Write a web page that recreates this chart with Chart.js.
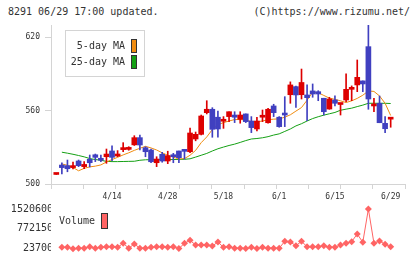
<!DOCTYPE html>
<html><head><meta charset="utf-8">
<script src="https://cdn.jsdelivr.net/npm/chart.js@4"></script>
<style>
html,body{margin:0;padding:0;background:#fff;width:420px;height:259px;overflow:hidden;}
.hdr{position:absolute;top:6px;font:10px "DejaVu Sans Mono",monospace;line-height:12px;color:#333;white-space:pre;}
#hdrL{left:8px}
#hdrR{right:10px}
#c1{position:absolute;left:0;top:0}
#c2{position:absolute;left:0;top:195px}
</style></head><body>
<div class="hdr" id="hdrL">8291 06/29 17:00 updated.</div>
<div class="hdr" id="hdrR">(C)https://www.rizumu.net/</div>
<canvas id="c1" width="420" height="205"></canvas>
<canvas id="c2" width="420" height="64"></canvas>
<script>
// ---- data ----
const dates = ['3/31','4/3','4/4','4/5','4/6','4/7','4/10','4/11','4/12','4/13','4/14','4/17','4/18','4/19','4/20','4/21','4/24','4/25','4/26','4/27','4/28',
  '5/1','5/8','5/9','5/10','5/11','5/12','5/15','5/16','5/17','5/18','5/19','5/22','5/23','5/24','5/25','5/26','5/29','5/30','5/31',
  '6/1','6/2','6/5','6/6','6/7','6/8','6/9','6/12','6/13','6/14','6/15','6/16','6/19','6/20','6/21','6/22','6/23','6/26','6/27','6/28','6/29'];
const openP  = [507.8,515.5,515,513.4,518.8,514.2,520.2,523.9,520.7,522.3,527,522.9,528.1,528.3,532,537.9,529.7,527.8,517.4,524.3,518.8,
  523.7,527,527.8,526.4,536.8,540.6,558.3,561.1,554.6,551.3,555.1,556.4,552.9,557.3,551.5,545,554.6,550.1,563.8,
  554.6,557.8,573,579.6,573,572.8,576.1,575.5,570.1,561.3,568.7,565,568.7,577.4,581,584.3,612.3,563.8,566,549.6,553];
const highP  = [508.2,517.4,519.6,518,519.6,518.3,523.7,524.5,523.7,528.6,531.3,527.3,533.8,530.5,539.5,540,530.5,528.6,522.3,525.9,526.8,
  525.1,527,527.8,545.8,542.5,556.4,568.1,562.4,559.7,555.1,559.1,559.1,559.1,557.3,555.1,554.6,560.5,561.9,565.2,
  555.1,571.4,583.5,580,594,581,581.8,576.3,570.1,570.9,572,565.5,590,580.2,601.4,584.3,630,570.1,572,555.1,554];
const lowP   = [507.8,508.2,510,512.3,514.2,512.5,513.9,518.3,518.3,516.9,519.1,522.3,526.4,527.6,531.5,527.8,522.3,517.4,514.2,517.8,516.6,
  517.4,517.4,520.4,525.6,535.3,540.1,557.3,538.2,538.2,545.5,551,550.2,549.7,550.2,542,543.4,551,549.7,555.1,
  546.4,546.9,566,562.7,569.5,551.8,570.9,568.1,556.4,561.1,563.8,556.4,567.3,568.1,575.5,575.5,561.1,559.1,550.1,542,546.4];
const closeP = [508.2,513.4,512.5,515,515,516,517.4,521.8,519.4,524.5,521.8,523.9,529.7,529.2,537.9,531.9,526.4,518.2,520.4,518.8,523.2,
  522.3,521.5,526.7,541.7,540.6,555.6,561.1,544.7,545,552.4,559.1,554.6,556.4,551,546.1,551.5,555.6,561.1,558.3,
  546.9,556.4,581,572.8,583,570.6,573.6,573.6,559.1,569.5,566,565.5,577.4,578.8,587.2,581.8,569.5,564.6,550.1,545.2,553.8];
const ma5  = [null,516.4,515.3,513.5,510.8,512.8,514,514.6,515.6,518,520,521.8,523.8,525.5,527.5,529.2,530.8,529.5,527.8,525.5,523.5,
  522,520.4,520.8,523.5,527.5,533.8,538.5,544.5,548.5,550.2,551.5,552.7,552.7,552.4,551,550.8,551.5,552.6,553,
  553.3,554.6,556.6,559.6,562.5,568.5,575,574.6,572.4,570.2,569.2,568,566.6,568,570,572.6,576,575.7,572,566,556];
const ma25 = [null,526,525.2,524.3,523.3,522.2,520.8,520,519.4,518.5,518.3,518.3,518.4,518.5,518.6,519.4,519.8,519.9,520,520,520,
  520,520.1,520.2,520.6,522,523.5,525,527,528.8,530.2,531.5,532.6,534,535.5,536.8,537.2,537.8,538.7,540,
  541,543,545,547.5,549.3,551.5,553.5,555,556.3,557.4,558.5,560.3,561.2,562,563.3,564.5,566,566,566,566,565.8];
const volume = [null,76500,76500,23700,45000,45000,99000,45000,76000,99000,99000,76000,227000,45000,201000,45000,45000,76000,99000,99000,76000,
  99000,30000,227000,340000,163000,163000,163000,125000,276000,76000,99000,45000,45000,30000,76000,30000,76000,45000,45000,
  45000,302000,276000,137000,302000,99000,99000,99000,137000,76000,76000,163000,227000,290000,578000,265000,1520600,227000,314000,190000,99000];
const tickDates  = ['4/14','4/28','5/18','6/1','6/15','6/29'];
const priceTicks = [500,560,620];
const volTicks   = [23700,772150,1520600];

// ---- styles ----
const UP = '#dd0000', DOWN = '#4040c0';
const MA5C = '#f08c10', MA25C = '#14a014', VOLC = '#ff6464';
const AXC = '#d4d4d4', TXT = '#333';
const MONO = '"DejaVu Sans Mono", monospace';
const XMIN = -0.95, XMAX = 62.57;

const idx = dates.map((d, i) => i);
const candleColor = idx.map(i => closeP[i] >= openP[i] ? UP : DOWN);

const maLegend = {
  id: 'maLegend',
  afterDatasetsDraw(chart) {
    const ctx = chart.ctx;
    const items = chart.data.datasets.filter(d => d.type === 'line');
    ctx.save();
    ctx.fillStyle = '#fff';
    ctx.fillRect(66, 31, 78, 45);
    ctx.strokeStyle = AXC; ctx.lineWidth = 1;
    ctx.strokeRect(65.5, 30.5, 79, 46);
    ctx.font = '10px ' + MONO;
    ctx.textAlign = 'right'; ctx.textBaseline = 'middle';
    items.forEach((d, k) => {
      const cy = 46 + k * 16;
      ctx.fillStyle = TXT;
      ctx.fillText(d.label, 125, cy);
      ctx.fillStyle = d.borderColor;
      ctx.fillRect(131, cy - 7, 6, 14);
      ctx.strokeStyle = '#333';
      ctx.strokeRect(131.5, cy - 6.5, 5, 13);
    });
    ctx.restore();
  }
};

new Chart(document.getElementById('c1'), {
  data: {
    datasets: [
      { type: 'line', label: '5-day MA', data: idx.map(i => ({ x: i, y: ma5[i] })), borderColor: MA5C, backgroundColor: MA5C,
        borderWidth: 1, pointRadius: 0, tension: 0, order: 3 },
      { type: 'line', label: '25-day MA', data: idx.map(i => ({ x: i, y: ma25[i] })), borderColor: MA25C, backgroundColor: MA25C,
        borderWidth: 1, pointRadius: 0, tension: 0, order: 3 },
      { type: 'bar', label: 'wick', data: idx.map(i => ({ x: i, y: [lowP[i], highP[i]] })), backgroundColor: candleColor,
        barThickness: 1, grouped: false, order: 2 },
      { type: 'bar', label: 'body', data: idx.map(i => ({ x: i, y: [openP[i], closeP[i]] })), backgroundColor: candleColor,
        barThickness: 5, grouped: false, minBarLength: 2, order: 1 }
    ]
  },
  options: {
    responsive: false, animation: false, devicePixelRatio: 1,
    layout: { padding: { top: 25, right: 15, left: 0, bottom: 0 } },
    plugins: { legend: { display: false }, tooltip: { enabled: false } },
    scales: {
      x: {
        type: 'linear', position: 'bottom', min: XMIN, max: XMAX, weight: 1, offset: false,
        grid: { display: false, drawTicks: false, offset: false }, border: { display: false },
        afterBuildTicks: s => { s.ticks = tickDates.map(d => ({ value: dates.indexOf(d) })); },
        ticks: { autoSkip: false, maxRotation: 0, padding: 3, color: TXT, font: { family: MONO, size: 8 },
          callback: v => dates[v] },
        afterFit: s => { s.height = 16; }
      },
      xg: {
        type: 'linear', position: 'bottom', min: 0, max: 11, weight: 0, offset: false,
        afterBuildTicks: s => { s.ticks = Array.from({ length: 12 }, (_, k) => ({ value: k })); },
        ticks: { display: false },
        grid: { drawOnChartArea: false, tickLength: 5, color: AXC, offset: false },
        border: { color: AXC },
        afterFit: s => { s.height = 5; }
      },
      y: {
        min: 500, max: 630,
        afterBuildTicks: s => { s.ticks = priceTicks.map(v => ({ value: v })); },
        grid: { drawOnChartArea: false, tickLength: 6, color: AXC },
        border: { color: AXC },
        ticks: { padding: 5, color: TXT, font: { family: MONO, size: 8 } },
        afterFit: s => { s.width = 51; }
      }
    }
  },
  plugins: [maLegend]
});

const volLegend = {
  id: 'volLegend',
  afterDatasetsDraw(chart) {
    const ctx = chart.ctx;
    const d = chart.data.datasets[0];
    ctx.save();
    ctx.font = '10px ' + MONO;
    ctx.textAlign = 'left'; ctx.textBaseline = 'middle';
    ctx.fillStyle = TXT;
    ctx.fillText(d.label, 59, 26.5);
    ctx.fillStyle = d.backgroundColor;
    ctx.fillRect(101, 18.5, 7, 15);
    ctx.strokeStyle = '#333'; ctx.lineWidth = 1;
    ctx.strokeRect(101.5, 18.5, 6, 15);
    ctx.restore();
  }
};

new Chart(document.getElementById('c2'), {
  type: 'line',
  data: {
    datasets: [{
      label: 'Volume', data: idx.map(i => ({ x: i, y: volume[i] })),
      borderColor: VOLC, backgroundColor: VOLC, borderWidth: 1,
      pointStyle: 'rectRot', pointRadius: 3.5, pointBorderWidth: 0, pointBackgroundColor: VOLC,
      tension: 0, clip: false
    }]
  },
  options: {
    responsive: false, animation: false, devicePixelRatio: 1,
    layout: { padding: { top: 14, right: 15, left: 0, bottom: 10.3 } },
    plugins: { legend: { display: false }, tooltip: { enabled: false } },
    scales: {
      x: { type: 'linear', min: XMIN, max: XMAX, display: false },
      y: {
        min: 23700, max: 1520600,
        afterBuildTicks: s => { s.ticks = volTicks.map(v => ({ value: v })); },
        grid: { display: false, drawTicks: false }, border: { display: false },
        ticks: { padding: -2, color: TXT, font: { family: MONO, size: 10 }, callback: v => String(v) },
        afterFit: s => { s.width = 51; }
      }
    }
  },
  plugins: [volLegend]
});
</script>
</body></html>
